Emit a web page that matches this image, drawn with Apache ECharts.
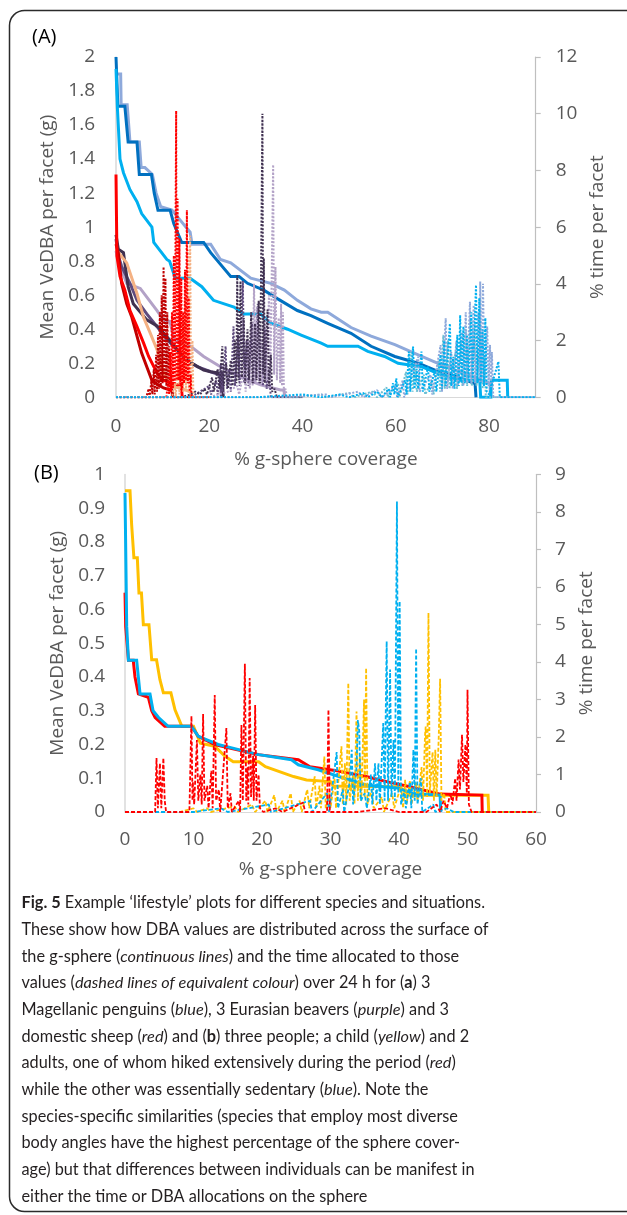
<!DOCTYPE html>
<html>
<head>
<meta charset="utf-8">
<script src="https://cdn.jsdelivr.net/npm/echarts@6/dist/echarts.min.js"></script>
<style>
html,body{margin:0;padding:0;background:#fff;}
#chart{width:627px;height:1215px;}
</style>
</head>
<body>
<div id="chart"></div>
<script>
// ---------------- Panel A : tick settings ----------------
const xTicksA = {min: 0, max: 90, interval: 20};
const yLeftA = {min: 0, max: 2, interval: 0.2};
const yRightA = {min: 0, max: 12, interval: 2};
const xTicksB = {min: 0, max: 60, interval: 10};
const yLeftB = {min: 0, max: 1, interval: 0.1};
const yRightB = {min: 0, max: 9, interval: 1};

// ---------------- Panel A : Mean VeDBA (left axis) [coverage %, g] ----------------
const penguinDarkVeDBA = [[0,2.0],[0.4,2.0],[0.4,1.71],[1.9,1.71],[2.6,1.5],[4.5,1.5],[5.0,1.31],[7.6,1.31],[8.2,1.2],[9.0,1.1],[11.6,1.1],[12.4,1.02],[14.1,0.91],[18.8,0.91],[20.3,0.85],[24.6,0.71],[26.4,0.71],[28.2,0.67],[31.7,0.63],[34.6,0.58],[38.9,0.51],[41.8,0.48],[45.4,0.435],[50.4,0.376],[54.7,0.30],[59.8,0.24],[64.8,0.20],[68.4,0.16],[72.0,0.13],[74.1,0.11],[77.0,0.08],[77.2,0]];
const penguinLightVeDBA = [[0,1.9],[1.0,1.9],[1.1,1.72],[2.4,1.72],[3.0,1.5],[5.0,1.5],[5.4,1.35],[6.2,1.35],[7.8,1.31],[8.6,1.2],[9.6,1.12],[12.0,1.1],[13.5,1.05],[15.9,0.97],[16.3,0.9],[20.3,0.9],[22.4,0.81],[24.6,0.79],[28.9,0.7],[33.2,0.67],[36.1,0.63],[38.9,0.57],[41.8,0.52],[44,0.5],[45.4,0.5],[50.4,0.41],[54.7,0.36],[59.8,0.31],[64.8,0.25],[69.8,0.19],[72.7,0.16],[75.6,0.13],[78.4,0.10],[80.2,0.08],[80.3,0]];
const penguinCyanVeDBA = [[0,1.93],[0.3,1.7],[0.86,1.4],[1.6,1.32],[3.0,1.22],[4.5,1.15],[5.5,1.08],[7.7,1.0],[8.1,0.91],[10.9,0.81],[11.5,0.8],[12.7,0.7],[15.9,0.7],[18.4,0.65],[20.9,0.57],[25.3,0.53],[27.4,0.49],[31,0.49],[33.2,0.435],[36.8,0.40],[39.7,0.366],[44,0.318],[45.4,0.30],[51.9,0.30],[54,0.27],[57.6,0.24],[60.5,0.2],[65.5,0.18],[69.1,0.14],[73.4,0.10],[78.0,0.10],[78.2,0],[80.4,0],[80.5,0.1],[83.9,0.1],[84,0]];
const beaverDarkVeDBA = [[0,0.955],[0.5,0.87],[1.6,0.85],[2.6,0.65],[3.7,0.55],[6.6,0.455],[8.8,0.42],[10.9,0.357],[13.1,0.28],[14.5,0.24],[16.3,0.2],[18.8,0.16],[20.3,0.15],[22.8,0.14],[23.0,0]];
const beaverMidVeDBA = [[0,0.93],[0.5,0.83],[1.2,0.77],[1.9,0.73],[3.0,0.67],[4.5,0.57],[6.6,0.49],[8.8,0.415],[10.9,0.34],[13.1,0.28],[15.2,0.22],[17.4,0.18],[20.3,0.15],[22.4,0.13],[22.6,0]];
const beaverLightVeDBA = [[0,0.86],[0.5,0.8],[2.3,0.67],[5.2,0.64],[8.8,0.51],[10.2,0.455],[11.6,0.445],[12.4,0.34],[16,0.30],[18.8,0.24],[22.4,0.18],[26.7,0.12],[31,0.073],[35.3,0.043],[36,0.043],[36.2,0]];
const sheepRedVeDBA = [[0,1.31],[0.2,0.83],[0.86,0.71],[1.9,0.63],[3.0,0.51],[4.5,0.415],[5.9,0.32],[7.0,0.24],[8.1,0.18],[9.1,0.13],[10.2,0.10],[12.0,0.08],[14.0,0.07],[14.2,0]];
const sheepDarkRedVeDBA = [[0,0.9],[0.5,0.85],[1.2,0.67],[2.3,0.55],[3.4,0.47],[4.5,0.36],[5.5,0.26],[6.6,0.18],[7.7,0.10],[9.1,0.073],[10.2,0.055],[12,0.04],[12.2,0]];
const sheepSalmonVeDBA = [[0,0.87],[2.3,0.79],[4.5,0.61],[5.9,0.47],[7.3,0.38],[8.8,0.28],[9.8,0.18],[10.9,0.10],[13,0.06],[15.2,0.04],[16,0.03],[16.2,0]];

// ---------------- Panel A : % time per facet (right axis) ----------------
const sheepDarkRedTime = [[0,0],[6.5,0],[7.0,0.3],[7.2,0],[7.6,0.6],[7.8,0.1],[8.1,1.0],[8.3,0.1],[8.6,1.5],[8.8,0.2],[9.0,2.2],[9.2,0.3],[9.4,3.0],[9.6,0.4],[9.8,3.6],[10.0,0.5],[10.2,4.6],[10.4,0.6],[10.6,4.2],[10.8,0.4],[11.0,3.0],[11.2,0.3],[11.4,1.8],[11.6,0.2],[11.8,0.8],[12.0,0],[20,0]];
const sheepRedTime = [[0,0],[10.8,0],[11.2,0.6],[11.4,0.1],[11.6,1.6],[11.8,0.2],[12.0,3.0],[12.2,0.3],[12.4,5.0],[12.6,0.5],[12.8,6.8],[12.9,10.1],[13.0,0.6],[13.2,7.0],[13.4,0.6],[13.6,5.6],[13.8,0.4],[14.0,4.2],[14.2,0.3],[14.4,3.0],[14.6,0.5],[14.8,4.5],[15.0,0.6],[15.2,6.6],[15.4,0.5],[15.6,3.5],[15.8,0.2],[16.0,0.8],[16.2,0],[20,0]];
const sheepSalmonTime = [[0,0],[12.0,0],[12.6,0.5],[12.8,0],[13.4,1.5],[13.6,0.1],[14.2,2.5],[14.4,0.2],[14.8,3.5],[15.0,0.3],[15.4,5.2],[15.6,0.3],[15.9,5.7],[16.1,0.2],[16.4,2.0],[16.6,0],[20,0]];
const beaverDarkTime = [[0,0],[14,0],[16,0.1],[17,0.2],[18,0.1],[19,0.3],[19.5,0.1],[20.6,0.7],[21,0.2],[21.8,1.0],[22.2,0.3],[22.8,1.8],[23.1,0.4],[23.6,1.2],[24.0,0.3],[24.6,1.3],[25.0,0.4],[25.5,2.0],[25.8,0.5],[26.0,4.3],[26.3,0.6],[26.7,4.1],[27.0,0.7],[27.4,2.8],[27.7,0.5],[28.2,2.4],[28.5,0.6],[29.0,3.0],[29.3,0.5],[29.8,2.6],[30.1,0.6],[30.6,3.4],[30.9,0.5],[31.4,10.0],[31.55,0.8],[31.7,4.9],[31.9,0.5],[32.5,3.1],[32.8,0.4],[33.2,1.5],[33.5,0.2],[34,0.3],[34.5,0],[40,0]];
const beaverMidTime = [[0,0],[16,0],[18,0.2],[20,0.4],[20.4,0.1],[21.5,0.6],[21.8,0.1],[22.5,1.2],[22.8,0.2],[23.5,1.8],[23.8,0.3],[24.3,1.0],[24.6,0.2],[25.2,2.5],[25.5,0.4],[26.2,2.2],[26.5,0.4],[27.2,4.1],[27.5,0.5],[28.0,2.0],[28.4,0.4],[29.2,2.6],[29.5,0.5],[30.0,2.1],[30.4,3.3],[30.7,0.5],[31.2,2.0],[31.5,0.4],[32.0,2.4],[32.3,0.3],[32.8,1.0],[33.2,0],[40,0]];
const beaverLightTime = [[0,0],[20,0],[24,0.2],[26,0.4],[26.4,0.1],[27.5,1.0],[27.8,0.2],[28.4,2.0],[28.7,0.3],[29.0,3.0],[29.3,0.4],[29.6,4.0],[29.9,0.5],[30.2,3.2],[30.5,0.6],[31.0,2.5],[31.3,0.5],[32.0,2.8],[32.3,0.6],[32.8,3.6],[33.1,0.6],[33.7,8.2],[33.9,0.8],[34.2,4.6],[34.5,0.6],[34.9,2.8],[35.2,0.5],[35.4,3.3],[35.6,0.4],[35.8,3.0],[36.0,0.2],[36.4,0.3],[36.6,0],[40,0]];
const penguinCyanTime = [[0,0],[30,0],[40,0.1],[44,0],[48,0.1],[50,0],[53,0.15],[54,0],[56,0.2],[57,0],[58.5,0.3],[58.8,0],[59.4,0.5],[59.7,0.1],[60.1,0.67],[60.4,0],[62.0,0.6],[62.3,0.1],[62.8,1.61],[63.1,0.2],[63.7,1.79],[64.0,0.3],[64.5,1.0],[64.8,0.3],[65.5,1.61],[65.8,0.2],[66.9,1.08],[67.2,0.2],[68.4,0.96],[68.7,0.2],[69.6,1.5],[69.9,0.3],[70.4,2.0],[70.7,0.4],[71.6,2.6],[71.9,0.4],[72.3,1.43],[72.6,0.3],[73.2,2.2],[73.5,0.4],[73.8,2.9],[74.1,0.5],[74.5,2.5],[74.8,0.5],[75.3,2.2],[75.6,0.6],[76.2,3.0],[76.5,0.6],[77.2,3.96],[77.5,0.5],[77.9,3.5],[78.2,0.5],[78.6,2.4],[78.9,0.4],[79.2,2.8],[79.5,0.2],[80.0,0.1],[82.0,1.26],[82.3,0],[90,0]];
const penguinLightTime = [[0,0],[35,0],[45,0.1],[46,0],[52,0.2],[53,0],[56,0.25],[57,0],[60,0.4],[60.3,0],[61.5,0.6],[61.8,0],[64.8,1.43],[65.1,0.2],[67.5,0.8],[67.8,0.1],[69.6,1.84],[69.9,0.2],[70.7,2.79],[71.0,0.3],[71.9,1.6],[72.2,0.3],[73.0,2.0],[73.3,0.4],[74.2,2.3],[74.5,0.4],[75.0,3.0],[75.3,0.5],[75.9,3.37],[76.2,0.5],[76.7,3.25],[77.0,0.5],[77.7,3.0],[78.0,0.5],[78.1,4.08],[78.4,0.6],[78.7,4.0],[79.0,0.5],[79.6,2.5],[79.9,0.4],[80.2,1.85],[80.4,0.3],[80.6,1.6],[80.9,0],[90,0]];
const penguinDarkTime = [[0,0],[38,0],[44,0.1],[45,0],[50,0.15],[51,0],[55,0.2],[56,0],[58,0.35],[58.3,0],[60.5,0.5],[60.8,0],[62.2,0.9],[62.5,0.1],[63.3,1.6],[63.6,0.2],[64.2,1.2],[64.5,0.2],[66.0,0.8],[66.3,0.1],[67.8,0.6],[68.1,0.1],[69.2,1.3],[69.5,0.2],[70.2,2.2],[70.5,0.3],[71.2,2.0],[71.5,0.3],[72.8,1.6],[73.1,0.3],[74.0,2.0],[74.3,0.4],[75.0,2.4],[75.3,0.4],[76.0,2.8],[76.3,0.4],[77.0,2.6],[77.3,0.4],[78.3,2.2],[78.6,0.3],[79.0,1.5],[79.3,0],[90,0]];

// ---------------- Panel B : Mean VeDBA (left axis) ----------------
const personRedVeDBA = [[0,0.65],[0.1,0.55],[0.5,0.45],[1.2,0.45],[1.46,0.4],[1.95,0.35],[3.4,0.34],[3.9,0.3],[4.4,0.28],[5.8,0.254],[9.7,0.254],[10.7,0.224],[13.1,0.2],[15.1,0.19],[19.5,0.17],[25.3,0.155],[27,0.134],[30.4,0.124],[35.2,0.105],[38.2,0.09],[41.6,0.075],[46,0.053],[52.1,0.05],[52.15,0]];
const personBlueVeDBA = [[0,0.945],[0.25,0.55],[0.5,0.45],[1.7,0.45],[2.2,0.35],[3.65,0.35],[4.1,0.3],[4.9,0.28],[6.3,0.254],[9.7,0.254],[10.7,0.224],[13.6,0.2],[15.6,0.19],[19.5,0.17],[24.3,0.155],[25.3,0.14],[28.2,0.125],[31.1,0.106],[35.2,0.08],[40.1,0.07],[42,0.055],[46,0.05],[46.1,0]];
const personYellowVeDBA = [[0,0.952],[0.73,0.952],[0.97,0.851],[1.2,0.85],[1.3,0.753],[1.8,0.753],[2.04,0.649],[2.4,0.649],[2.68,0.555],[3.5,0.555],[3.9,0.451],[4.6,0.451],[5.1,0.392],[5.6,0.353],[6.7,0.353],[7.3,0.303],[8.3,0.254],[10,0.254],[11,0.204],[13.1,0.195],[14.6,0.165],[15.8,0.149],[19.5,0.149],[20.5,0.134],[24.6,0.105],[26.5,0.095],[30,0.09],[30.4,0.077],[40,0.075],[41.6,0.05],[53,0.05],[53.1,0]];

// ---------------- Panel B : % time per facet (right axis) ----------------
const personRedTime = [[0,0],[4.4,0],[4.6,1.44],[4.8,0.1],[5.1,1.3],[5.3,0.1],[5.6,1.44],[5.8,0.3],[6.0,0],[9.4,0],[9.7,2.56],[9.85,0.3],[9.9,0.8],[10.1,0.2],[10.5,1.92],[10.7,0.3],[11.0,1.0],[11.2,0.2],[11.4,2.61],[11.6,0.3],[12.0,0.7],[12.2,0.1],[12.6,1.1],[12.8,0.1],[13.1,3.12],[13.3,0.3],[13.7,0.6],[13.9,0],[14.8,2.24],[15.0,0.1],[15.4,0.5],[15.6,0],[16.6,0.3],[16.8,0],[17.0,2.32],[17.2,0.3],[17.5,3.95],[17.7,0.3],[17.9,1.2],[18.0,0.2],[18.2,3.57],[18.4,0.4],[18.7,1.5],[18.8,0.3],[19.0,2.85],[19.2,0.3],[19.5,1.0],[19.7,0.1],[20.2,0],[22,0.1],[23,0],[26,0.25],[26.3,0],[29.5,0],[29.7,2.73],[29.9,0],[34,0],[38,0.1],[40,0],[44,0],[45.5,0.2],[46.0,0],[46.5,0.3],[47.0,0.1],[47.5,0.5],[47.8,0.2],[48.2,0.9],[48.4,0.3],[48.7,1.4],[48.9,0.6],[49.2,2.06],[49.4,0.8],[49.7,1.8],[49.9,0.5],[50.0,3.26],[50.2,0.2],[50.6,0],[60,0]];
const personBlueTime = [[0,0],[10,0],[14,0.1],[15,0],[21,0.2],[21.3,0],[27,0.3],[27.3,0],[29.5,0.5],[29.8,0],[30.5,1.0],[30.9,1.6],[31.1,0.1],[31.8,0.6],[32.0,0],[32.8,0.8],[33.1,1.66],[33.3,0.2],[33.8,1.2],[34.0,2.45],[34.2,2.15],[34.4,0.3],[35.0,0.5],[35.3,0.1],[35.9,1.0],[36.1,0.2],[36.5,1.3],[36.7,0.3],[37.0,1.3],[37.2,0.2],[37.7,2.37],[37.9,0.3],[38.2,4.55],[38.4,0.3],[38.7,3.8],[38.9,0.4],[39.2,1.92],[39.4,0.3],[39.7,8.28],[39.9,0.5],[40.1,5.62],[40.3,0.2],[40.8,0.6],[41.0,0.1],[41.6,0.8],[41.8,0.1],[42.1,1.66],[42.3,0.3],[42.5,4.36],[42.7,0.2],[43.2,0.9],[43.4,0],[45,0.2],[45.3,0],[47,0.1],[48,0],[60,0]];
const personYellowTime = [[0,0],[8,0],[10,0.1],[10.5,0],[12,0.1],[12.5,0],[16,0.15],[16.5,0],[18.5,0.2],[19,0],[20.5,0.3],[20.8,0],[21.8,0.45],[22.1,0],[23.0,0.3],[23.3,0],[24.2,0.5],[24.5,0],[25.5,0.3],[25.8,0],[26.6,0.6],[26.9,0.1],[27.7,0.95],[27.9,0.1],[28.4,0.7],[28.6,0.1],[29.1,1.48],[29.3,0.1],[29.8,0.5],[30.0,0.1],[30.6,0.9],[30.8,0.1],[31.6,1.75],[31.8,0.2],[32.1,1.3],[32.3,0.2],[32.6,3.44],[32.8,0.3],[33.3,1.0],[33.5,0.2],[33.8,2.68],[34.0,0.3],[34.3,1.5],[34.5,0.3],[34.9,3.0],[35.0,0.4],[35.2,3.84],[35.4,0.2],[36.0,0.6],[36.3,0.1],[37.5,0.4],[37.8,0],[39.0,0.5],[39.3,0.1],[40.3,0.7],[40.6,0.1],[40.9,0.86],[41.1,0.2],[41.6,0.85],[41.8,0.2],[42.5,0.8],[42.7,0.3],[43.3,1.2],[43.5,0.3],[43.8,2.06],[43.9,2.28],[44.1,0.4],[44.3,5.31],[44.5,0.5],[44.9,1.6],[45.1,0.3],[45.3,1.66],[45.5,0.4],[45.8,2.0],[46.0,3.55],[46.2,0.3],[46.6,0.5],[46.8,0],[53,0],[60,0]];

// ---------------- Text ----------------
const panelLabels = ['(A)', '(B)'];
const xName = '% g-sphere coverage';
const yLeftName = 'Mean VeDBA per facet (g)';
const yRightName = '% time per facet';
const captionLines = [
  '{b|Fig. 5} Example \u2018lifestyle\u2019 plots for different species and situations.',
  'These show how DBA values are distributed across the surface of',
  'the g-sphere ({i|continuous lines}) and the time allocated to those',
  'values ({i|dashed lines of equivalent colour}) over 24 h for ({b|a}) 3',
  'Magellanic penguins ({i|blue}), 3 Eurasian beavers ({i|purple}) and 3',
  'domestic sheep ({i|red}) and ({b|b}) three people; a child ({i|yellow}) and 2',
  'adults, one of whom hiked extensively during the period ({i|red})',
  'while the other was essentially sedentary ({i|blue}). Note the',
  'species-specific similarities (species that employ most diverse',
  'body angles have the highest percentage of the sphere cover-',
  'age) but that differences between individuals can be manifest in',
  'either the time or DBA allocations on the sphere'
];

// ---------------- Styling / layout ----------------
const FONT = '"Open Sans", sans-serif';
const AXCOL = '#595959';
const CAPFONT = '16.3px Lato, sans-serif';
const gridA = {left: 116, top: 57, width: 419.7, height: 340.3};
const gridB = {left: 125, top: 474.5, width: 411, height: 337.5};

function xAxisDef(grid, t, margin, nameGap, hideMax) {
  return {
    type: 'value', gridIndex: grid, min: t.min, max: t.max, interval: t.interval,
    name: xName, nameLocation: 'middle', nameGap: nameGap,
    nameTextStyle: {color: AXCOL, fontSize: 19, fontFamily: FONT},
    axisLine: {show: true, lineStyle: {color: '#D9D9D9', width: 1}},
    axisTick: {show: false}, splitLine: {show: false},
    axisLabel: {color: AXCOL, fontSize: 19, fontFamily: FONT, margin: margin,
      formatter: v => (hideMax && v === t.max) ? '' : String(v)}
  };
}
function yLeftDef(grid, t, margin, nameGap) {
  return {
    type: 'value', gridIndex: grid, position: 'left', min: t.min, max: t.max, interval: t.interval,
    name: yLeftName, nameLocation: 'middle', nameRotate: 90, nameGap: nameGap,
    nameTextStyle: {color: AXCOL, fontSize: 19, fontFamily: FONT},
    axisLine: {show: true, lineStyle: {color: '#D9D9D9', width: 1.5}},
    axisTick: {show: false}, splitLine: {show: false},
    axisLabel: {color: AXCOL, fontSize: 19, fontFamily: FONT, margin: margin}
  };
}
function yRightDef(grid, t, margin, nameGap) {
  return {
    type: 'value', gridIndex: grid, position: 'right', min: t.min, max: t.max, interval: t.interval,
    name: yRightName, nameLocation: 'middle', nameRotate: 90, nameGap: nameGap,
    nameTextStyle: {color: AXCOL, fontSize: 19, fontFamily: FONT},
    axisLine: {show: true, lineStyle: {color: '#BFBFBF', width: 1.2}},
    axisTick: {show: true, length: 5, lineStyle: {color: '#BFBFBF', width: 1.2}},
    splitLine: {show: false},
    axisLabel: {color: AXCOL, fontSize: 19, fontFamily: FONT, margin: margin}
  };
}
function solid(data, color, xi, yi, z) {
  return {type: 'line', xAxisIndex: xi, yAxisIndex: yi, data: data, showSymbol: false, symbol: 'none',
    lineStyle: {color: color, width: 3, join: 'miter'}, itemStyle: {color: color}, z: z || 2, silent: true};
}
function dotted(data, color, xi, yi, z) {
  return {type: 'line', xAxisIndex: xi, yAxisIndex: yi, data: data, showSymbol: false, symbol: 'none',
    lineStyle: {color: color, width: 2, type: [2, 1.6]}, itemStyle: {color: color}, z: z || 3, silent: true};
}
function dashed(data, color, xi, yi, z) {
  return {type: 'line', xAxisIndex: xi, yAxisIndex: yi, data: data, showSymbol: false, symbol: 'none',
    lineStyle: {color: color, width: 1.8, type: [4, 2]}, itemStyle: {color: color}, z: z || 3, silent: true};
}

const C = {
  pDark: '#0070C0', pLight: '#8EA9DB', pCyan: '#00B0F0', pTeal: '#6BBFD3',
  bDark: '#403151', bMid: '#5F4B7E', bLight: '#B3A2C7',
  sRed: '#FF0000', sDark: '#C00000', sSalmon: '#F4B183',
  hRed: '#FF0000', hBlue: '#00B0F0', hYellow: '#FFC000'
};

const captionGraphics = captionLines.map((t, i) => ({
  type: 'text', left: 21.5, top: 895 + i * 26.67, silent: true,
  style: {
    text: t, fill: '#231F20', font: CAPFONT,
    rich: {
      b: {font: 'bold ' + CAPFONT, fill: '#231F20'},
      i: {font: 'italic ' + CAPFONT, fill: '#231F20'}
    }
  }
}));

const option = {
  animation: false,
  backgroundColor: '#ffffff',
  grid: [
    Object.assign({containLabel: false}, gridA),
    Object.assign({containLabel: false}, gridB)
  ],
  xAxis: [
    xAxisDef(0, xTicksA, 20, 53, true),
    xAxisDef(1, xTicksB, 18.5, 48.5, false)
  ],
  yAxis: [
    yLeftDef(0, yLeftA, 21, 53),
    yRightDef(0, yRightA, 20, 51),
    yLeftDef(1, yLeftB, 20, 53),
    yRightDef(1, yRightB, 19, 37.5)
  ],
  graphic: [
    {type: 'rect', silent: true, shape: {x: 9.5, y: 10.5, width: 640, height: 1201, r: 15},
      style: {fill: 'none', stroke: '#2b2b2b', lineWidth: 1.5}},
    {type: 'text', left: 32, top: 27, silent: true,
      style: {text: panelLabels[0], fill: '#000', font: '20px "Open Sans", sans-serif'}},
    {type: 'text', left: 34, top: 463, silent: true,
      style: {text: panelLabels[1], fill: '#000', font: '20px "Open Sans", sans-serif'}}
  ].concat(captionGraphics),
  series: [
    // Panel A solid (VeDBA)
    solid(beaverLightVeDBA, C.bLight, 0, 0),
    solid(beaverMidVeDBA, C.bMid, 0, 0),
    solid(beaverDarkVeDBA, C.bDark, 0, 0),
    solid(sheepSalmonVeDBA, C.sSalmon, 0, 0),
    solid(sheepDarkRedVeDBA, C.sDark, 0, 0),
    solid(sheepRedVeDBA, C.sRed, 0, 0),
    solid(penguinLightVeDBA, C.pLight, 0, 0),
    solid(penguinDarkVeDBA, C.pDark, 0, 0),
    solid(penguinCyanVeDBA, C.pCyan, 0, 0),
    // Panel A dotted (time)
    dotted(beaverMidTime, C.bMid, 0, 1),
    dotted(beaverLightTime, C.bLight, 0, 1),
    dotted(beaverDarkTime, C.bDark, 0, 1),
    dotted(sheepDarkRedTime, C.sDark, 0, 1),
    dotted(sheepSalmonTime, C.sSalmon, 0, 1),
    dotted(sheepRedTime, C.sRed, 0, 1),
    dotted(penguinDarkTime, C.pTeal, 0, 1),
    dotted(penguinLightTime, C.pLight, 0, 1),
    dotted(penguinCyanTime, C.pCyan, 0, 1),
    // Panel B solid (VeDBA)
    solid(personYellowVeDBA, C.hYellow, 1, 2),
    solid(personRedVeDBA, C.hRed, 1, 2),
    solid(personBlueVeDBA, C.hBlue, 1, 2),
    // Panel B dashed (time)
    dashed(personYellowTime, C.hYellow, 1, 3),
    dashed(personBlueTime, C.hBlue, 1, 3),
    dashed(personRedTime, C.hRed, 1, 3)
  ]
};

const chart = echarts.init(document.getElementById('chart'), null, {renderer: 'canvas'});
chart.setOption(option);
</script>
</body>
</html>
